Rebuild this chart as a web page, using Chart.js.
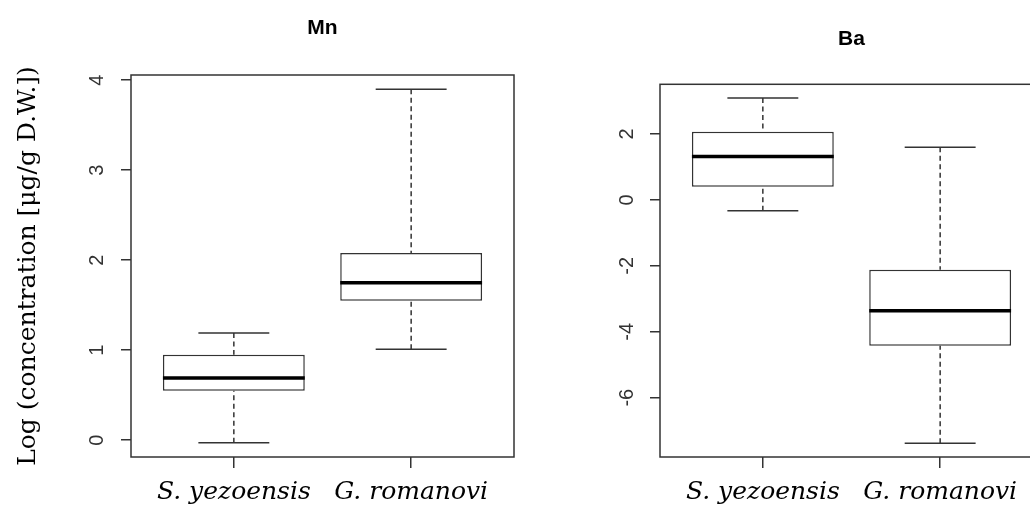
<!DOCTYPE html>
<html>
<head>
<meta charset="utf-8">
<title>Mn / Ba</title>
<script src="https://cdn.jsdelivr.net/npm/chart.js@4/dist/chart.umd.min.js"></script>
<style>
html, body { margin: 0; padding: 0; background: #fff; width: 1030px; height: 512px; overflow: hidden; }
#mnBox { position: absolute; left: 0; top: 0; }
#baBox { position: absolute; left: 520px; top: 0; }
</style>
</head>
<body>
<canvas id="mnBox" width="520" height="512"></canvas>
<canvas id="baBox" width="530" height="512"></canvas>
<script>
// groups on the x axis
var species = ['S. yezoensis', 'G. romanovi'];

// Mn, log concentration
var mnLow = [-0.03, 1.01];
var mnQ1 = [0.55, 1.55];
var mnMedian = [0.69, 1.75];
var mnQ3 = [0.95, 2.08];
var mnHigh = [1.19, 3.90];
var mnTicks = [0, 1, 2, 3, 4];

// Ba, log concentration
var baLow = [-0.33, -7.38];
var baQ1 = [0.40, -4.42];
var baMedian = [1.32, -3.36];
var baQ3 = [2.07, -2.12];
var baHigh = [3.09, 1.60];
var baTicks = [-6, -4, -2, 0, 2];

var lineCol = '#333';

// whiskers, staples, medians and the frame round the plot region
function boxParts(low, med, high) {
	return {
		id: 'boxParts',
		beforeDatasetsDraw: function(chart) {
			var ctx = chart.ctx, xs = chart.scales.x, ys = chart.scales.y;
			var meta = chart.getDatasetMeta(0);
			ctx.save();
			ctx.strokeStyle = lineCol;
			ctx.lineWidth = 1.5;
			for (var i = 0; i < species.length; i++) {
				var q1 = meta._parsed[i]._custom.barStart;
				var q3 = meta._parsed[i]._custom.barEnd;
				var cx = xs.getPixelForValue(i + 1);
				ctx.setLineDash([5, 3.5]);
				ctx.beginPath();
				ctx.moveTo(cx, ys.getPixelForValue(high[i]));
				ctx.lineTo(cx, ys.getPixelForValue(Math.max(q1, q3)));
				ctx.moveTo(cx, ys.getPixelForValue(low[i]));
				ctx.lineTo(cx, ys.getPixelForValue(Math.min(q1, q3)));
				ctx.stroke();
				ctx.setLineDash([]);
				ctx.beginPath();
				ctx.moveTo(xs.getPixelForValue(i + 0.8), ys.getPixelForValue(high[i]));
				ctx.lineTo(xs.getPixelForValue(i + 1.2), ys.getPixelForValue(high[i]));
				ctx.moveTo(xs.getPixelForValue(i + 0.8), ys.getPixelForValue(low[i]));
				ctx.lineTo(xs.getPixelForValue(i + 1.2), ys.getPixelForValue(low[i]));
				ctx.stroke();
			}
			ctx.restore();
		},
		afterDatasetsDraw: function(chart) {
			var ctx = chart.ctx, xs = chart.scales.x, ys = chart.scales.y;
			var a = chart.chartArea;
			ctx.save();
			ctx.strokeStyle = '#000';
			ctx.lineWidth = 3.5;
			ctx.beginPath();
			for (var i = 0; i < species.length; i++) {
				var y = ys.getPixelForValue(med[i]);
				ctx.moveTo(xs.getPixelForValue(i + 0.6), y);
				ctx.lineTo(xs.getPixelForValue(i + 1.4), y);
			}
			ctx.stroke();
			ctx.strokeStyle = lineCol;
			ctx.lineWidth = 1.5;
			ctx.strokeRect(a.left, a.top, a.right - a.left, a.bottom - a.top);
			ctx.restore();
		}
	};
}

// R pads the data range by 4% on each side
function padRange(low, high) {
	var lo = Math.min.apply(null, low), hi = Math.max.apply(null, high);
	var d = (hi - lo) * 0.04;
	return [lo - d, hi + d];
}

function drawPanel(id, name, low, q1, med, q3, high, yTicks, lay) {
	var yr = padRange(low, high);
	var boxes = species.map(function(s, i) {
		return { x: i + 1, y: [q1[i], q3[i]] };
	});
	return new Chart(document.getElementById(id), {
		type: 'bar',
		data: {
			datasets: [{
				data: boxes,
				backgroundColor: '#fff',
				borderColor: lineCol,
				borderWidth: 1.5,
				borderSkipped: false,
				barPercentage: 0.8,
				categoryPercentage: 1.0
			}]
		},
		options: {
			responsive: false,
			animation: false,
			layout: { padding: { left: 0, top: 0, right: lay.right, bottom: 0 } },
			plugins: {
				legend: { display: false },
				tooltip: { enabled: false },
				title: {
					display: true,
					fullSize: false,
					text: name,
					color: '#000',
					font: { family: 'Liberation Sans', size: 21, weight: 'bold' },
					padding: { top: lay.titleTop, bottom: lay.titleBottom }
				}
			},
			scales: {
				x: {
					type: 'linear',
					offset: false,
					min: 0.42,
					max: 2.58,
					afterBuildTicks: function(sc) {
						sc.ticks = species.map(function(s, i) { return { value: i + 1 }; });
					},
					afterFit: function(sc) { sc.height = lay.xHeight; },
					border: { display: false },
					grid: { offset: false, drawOnChartArea: false, drawTicks: true, tickLength: 11, color: lineCol, lineWidth: 1.5 },
					ticks: {
						autoSkip: false,
						maxRotation: 0,
						padding: 9,
						color: '#000',
						font: { family: 'DejaVu Serif', style: 'italic', size: 25 },
						callback: function(v) { return species[v - 1]; }
					}
				},
				y: {
					type: 'linear',
					min: yr[0],
					max: yr[1],
					afterBuildTicks: function(sc) {
						sc.ticks = yTicks.map(function(v) { return { value: v }; });
					},
					afterFit: function(sc) { sc.width = lay.yWidth; },
					border: { display: false },
					grid: { drawOnChartArea: false, drawTicks: true, tickLength: 10, color: lineCol, lineWidth: 1.5 },
					ticks: {
						minRotation: 90,
						maxRotation: 90,
						crossAlign: 'center',
						padding: lay.yPad,
						color: '#333',
						font: { family: 'Liberation Sans', size: 20 }
					},
					title: {
						display: lay.yTitle,
						text: 'Log (concentration [μg/g D.W.])',
						color: '#000',
						font: { family: 'DejaVu Serif', size: 25 },
						padding: { top: 13, bottom: 0 }
					}
				}
			}
		},
		plugins: [boxParts(low, med, high)]
	});
}

drawPanel('mnBox', 'Mn', mnLow, mnQ1, mnMedian, mnQ3, mnHigh, mnTicks,
	{ right: 6, titleTop: 15.7, titleBottom: 34.1, xHeight: 55, yWidth: 131, yPad: 18, yTitle: true });
drawPanel('baBox', 'Ba', baLow, baQ1, baMedian, baQ3, baHigh, baTicks,
	{ right: 7, titleTop: 27.1, titleBottom: 32, xHeight: 55, yWidth: 140, yPad: 14, yTitle: false });
</script>
</body>
</html>
